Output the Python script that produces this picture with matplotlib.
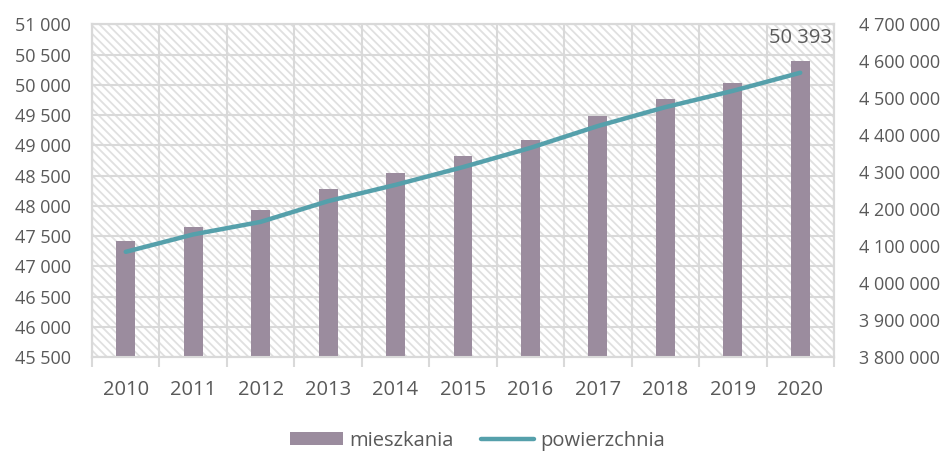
import matplotlib
matplotlib.use("Agg")
import matplotlib.pyplot as plt
from matplotlib.ticker import FuncFormatter, FixedLocator

years = ["2010", "2011", "2012", "2013", "2014", "2015", "2016", "2017", "2018", "2019", "2020"]
mieszkania = [47420, 47660, 47935, 48275, 48540, 48820, 49090, 49480, 49765, 50030, 50393]
powierzchnia = [4085000, 4132000, 4166000, 4222000, 4266000, 4314000, 4366000, 4425000, 4476000, 4520000, 4569000]

bar_color = "#9b8c9e"
line_color = "#55a0ab"
text_color = "#595959"
grid_color = "#d9d9d9"

plt.rcParams["font.family"] = ["Open Sans", "DejaVu Sans"]
plt.rcParams["hatch.color"] = "#e0e0e0"
plt.rcParams["hatch.linewidth"] = 1.3


def spaced(v, pos=None):
    return f"{int(round(v)):,}".replace(",", " ")


fig = plt.figure(figsize=(9.4, 4.53), dpi=100)
ax = fig.add_axes([0.0979, 0.2113, 0.7893, 0.7351])
ax2 = ax.twinx()

x = list(range(len(years)))

# hatched plot area like the Excel pattern fill
ax.patch.set_facecolor("white")
ax.patch.set_edgecolor("#e0e0e0")
ax.patch.set_hatch("\\\\\\\\")
ax.patch.set_linewidth(0)

ax.bar(x, mieszkania, width=0.28, color=bar_color, zorder=3, label="mieszkania")
ax2.plot(x, powierzchnia, color=line_color, lw=3.2, solid_capstyle="round", zorder=4, label="powierzchnia")

ax.annotate(spaced(mieszkania[-1]), (x[-1], mieszkania[-1]), xytext=(0, 13), textcoords="offset points",
            ha="center", va="baseline", fontsize=14.5, color=text_color)

ax.set_xlim(-0.5, len(years) - 0.5)
ax.set_ylim(45500, 51000)
ax2.set_ylim(3800000, 4700000)

ax.set_yticks(range(45500, 51001, 500))
ax2.set_yticks(range(3800000, 4700001, 100000))
ax.yaxis.set_major_formatter(FuncFormatter(spaced))
ax2.yaxis.set_major_formatter(FuncFormatter(spaced))

ax.set_xticks(x)
ax.set_xticklabels(years)
ax.xaxis.set_minor_locator(FixedLocator([i - 0.5 for i in range(len(years) + 1)]))

ax.tick_params(axis="x", which="major", length=0, pad=16, labelsize=14.5, labelcolor=text_color)
ax.tick_params(axis="x", which="minor", length=7, width=1.5, color=grid_color)
ax.tick_params(axis="y", length=0, pad=15, labelsize=13, labelcolor=text_color)
ax2.tick_params(axis="y", length=0, pad=18, labelsize=13, labelcolor=text_color)

ax.grid(True, which="minor", axis="x", color=grid_color, lw=1.5, zorder=1)
ax.grid(True, which="major", axis="y", color=grid_color, lw=1.5, zorder=1)
ax.set_axisbelow(True)

for a in (ax, ax2):
    for s in a.spines.values():
        s.set_color(grid_color)
        s.set_linewidth(1.5)

h1, l1 = ax.get_legend_handles_labels()
h2, l2 = ax2.get_legend_handles_labels()
fig.legend(h1 + h2, l1 + l2, loc="lower center", bbox_to_anchor=(0.508, -0.035), ncol=2, frameon=False,
           fontsize=14.5, labelcolor=text_color, handlelength=2.6, handleheight=0.65,
           handletextpad=0.3, columnspacing=1.4)

fig.savefig("out.png", dpi=100)
